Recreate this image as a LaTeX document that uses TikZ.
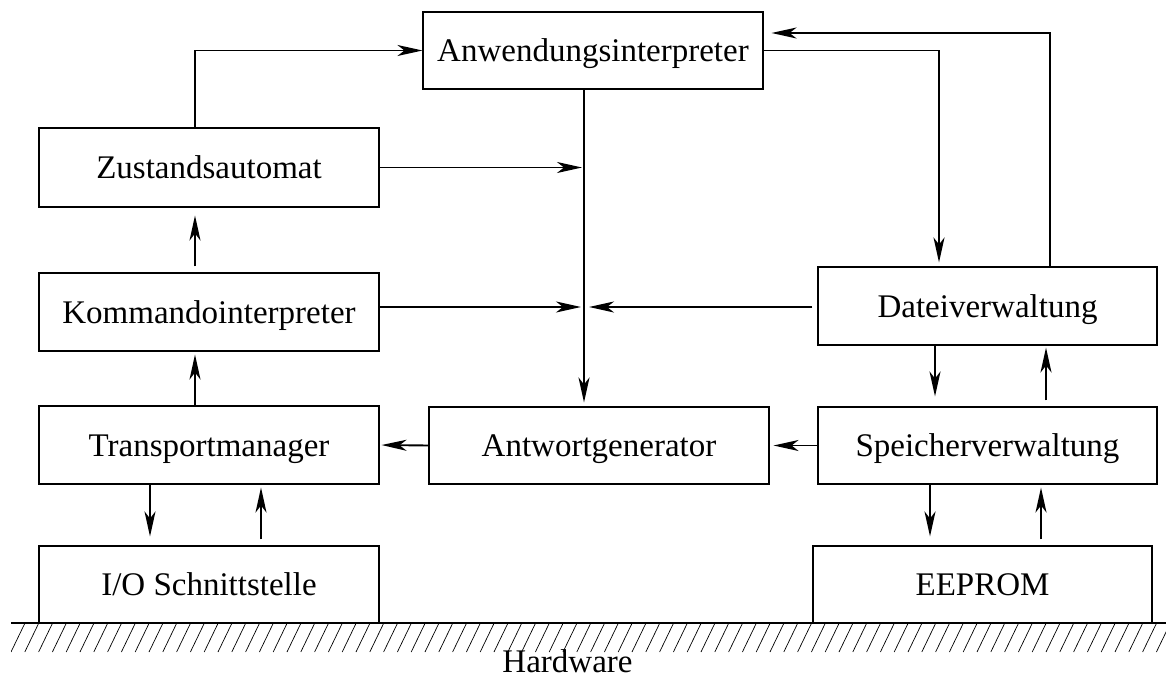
\documentclass[tikz,border=0pt]{standalone}
\usepackage{fontspec}
\setmainfont{Liberation Serif}
\usetikzlibrary{arrows.meta}
\begin{document}
\begin{tikzpicture}[x=1pt,y=-1pt,
  font=\fontsize{33pt}{40pt}\selectfont,
  box/.style={draw, line width=1.1pt, minimum width=340pt, inner sep=0pt, text height=22pt, text depth=0pt},
  arr/.style={line width=1.9pt, -{Stealth[length=25pt,width=11pt,inset=7pt]}},
  hatch/.style={line width=0.7pt}]
\useasboundingbox (0,0) rectangle (1166,679);

% boxes
\node[box, minimum height=77pt] (anw) at (593,50.5) {Anwendungsinterpreter};
\node[box, minimum height=79pt] (zust) at (209,167.5) {Zustandsautomat};
\node[box, minimum height=78pt] (komm) at (209,312) {Kommandointerpreter};
\node[box, minimum height=78pt] (trans) at (209,445) {Transportmanager};
\node[box, minimum height=77pt] (io) at (209,584.5) {I/O Schnittstelle};
\node[box, minimum height=77pt] (antw) at (599,445.5) {Antwortgenerator};
\node[box, minimum width=339pt, minimum height=78pt] (dat) at (987.5,306) {Dateiverwaltung};
\node[box, minimum width=339pt, minimum height=77pt] (speich) at (987.5,445.5) {Speicherverwaltung};
\node[box, minimum width=339pt, minimum height=77pt] (eeprom) at (982.5,584.5) {EEPROM};

% helper coordinates
\coordinate (za) at (195,50);
\coordinate (jz) at (584,167.5);
\coordinate (jk) at (584,307);
\coordinate (ad) at (939,50);
\coordinate (da) at (1050,33);
\coordinate (ds) at (935,0);
\coordinate (sd) at (1046,0);
\coordinate (ti) at (150,0);
\coordinate (it) at (261,0);
\coordinate (se) at (930,0);
\coordinate (es) at (1041,0);

% connectors
\draw[arr] (zust.north -| za) |- (anw.west);
\draw[arr, shorten >=2pt] (zust.east) -- (jz);
\draw[arr, shorten <=6pt, shorten >=8pt] (komm.north -| za) -- (zust.south -| za);
\draw[arr, shorten >=3pt] (trans.north -| za) -- (komm.south -| za);
\draw[arr, shorten >=3pt] (komm.east |- jk) -- (jk);
\draw[arr, shorten <=5pt, shorten >=5pt] (dat.west |- jk) -- (jk);
\draw[arr, shorten >=4pt] (anw.south -| jk) -- (antw.north -| jk);
\draw[arr, shorten >=2pt] (antw.west) -- (trans.east);
\draw[arr, shorten >=4pt] (speich.west) -- (antw.east);
\draw[arr, shorten >=4pt] (anw.east) -| (dat.north -| ad);
\draw[arr, shorten >=8pt] (dat.north -| da) |- (anw.east |- da);
\draw[arr, shorten >=10pt] (dat.south -| ds) -- (speich.north -| ds);
\draw[arr, shorten <=6pt, shorten >=2pt] (speich.north -| sd) -- (dat.south -| sd);
\draw[arr, shorten >=9pt] (trans.south -| ti) -- (io.north -| ti);
\draw[arr, shorten <=6pt, shorten >=3pt] (io.north -| it) -- (trans.south -| it);
\draw[arr, shorten >=9pt] (speich.south -| se) -- (eeprom.north -| se);
\draw[arr, shorten <=6pt, shorten >=3pt] (eeprom.north -| es) -- (speich.south -| es);

% ground
\draw[line width=1.5pt] (11,623) -- (1166,623);
\begin{scope}
\clip (11,623) rectangle (1166,653);
\foreach \i in {0,...,85} {
  \draw[hatch] (11+\i*13.8,652) -- (25+\i*13.8,623);
}
\end{scope}
\node[anchor=base, inner sep=0pt] (hw) at (567.5,672) {Hardware};
\end{tikzpicture}
\end{document}
